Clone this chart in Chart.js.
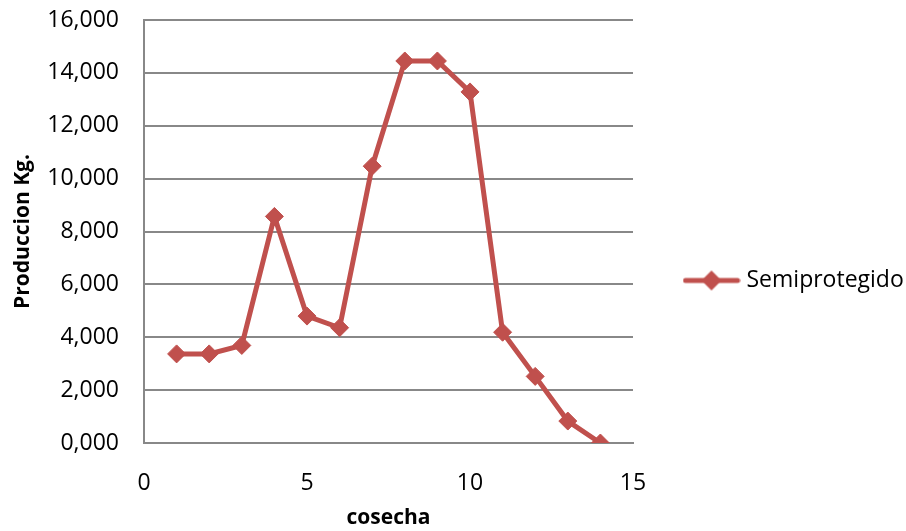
<!DOCTYPE html>
<html lang="es">
<head>
  <meta charset="UTF-8">
  <title>Produccion Semiprotegido</title>
  <script src="https://cdn.jsdelivr.net/npm/chart.js"></script>
  <style>
    html, body { margin: 0; padding: 0; background: #fff; }
    #wrap { width: 906px; height: 531px; }
  </style>
</head>
<body>
  <div id="wrap"><canvas id="myChart" width="906" height="531"></canvas></div>
  <script>
    // cosecha number and production per harvest
    const cosecha = [1, 2, 3, 4, 5, 6, 7, 8, 9, 10, 11, 12, 13, 14];
    const semiprotegido = [3.37, 3.37, 3.69, 8.57, 4.80, 4.36, 10.47, 14.45, 14.45, 13.28, 4.19, 2.52, 0.83, 0.00];
    const seriesName = 'Semiprotegido';
    const lineColor = '#C0504D';
    const gridColor = '#888888';
    const fontFamily = '"Open Sans", "Liberation Sans", sans-serif';

    // legend glyph: short line with a diamond in the middle
    const glyph = document.createElement('canvas');
    glyph.width = 58; glyph.height = 22;
    const g = glyph.getContext('2d');
    g.strokeStyle = lineColor; g.lineWidth = 5; g.lineCap = 'round';
    g.beginPath(); g.moveTo(3, 11); g.lineTo(55, 11); g.stroke();
    g.fillStyle = lineColor;
    g.beginPath(); g.moveTo(29, 1); g.lineTo(39, 11); g.lineTo(29, 21); g.lineTo(19, 11); g.closePath(); g.fill();

    // legend kept wide enough for its label, and nudged a bit below the middle
    const legendPlacement = {
      id: 'legendPlacement',
      beforeInit(chart) {
        const fit = chart.legend.fit;
        chart.legend.fit = function () {
          fit.call(this);
          this.width = 273;
        };
      },
      afterLayout(chart) {
        chart.legend.top += 15;
        chart.legend.bottom += 15;
      }
    };

    const points = cosecha.map((c, i) => ({ x: c, y: semiprotegido[i] }));

    const ctx = document.getElementById('myChart').getContext('2d');
    const myChart = new Chart(ctx, {
      type: 'line',
      data: {
        datasets: [{
          label: seriesName,
          data: points,
          borderColor: lineColor,
          backgroundColor: lineColor,
          borderWidth: 5,
          pointStyle: 'rectRot',
          pointRadius: 9,
          pointBorderWidth: 1,
          tension: 0
        }]
      },
      plugins: [legendPlacement],
      options: {
        responsive: false,
        animation: false,
        layout: { padding: { left: 10, top: 0, right: 0, bottom: 0 } },
        plugins: {
          tooltip: { enabled: false },
          legend: {
            position: 'right',
            labels: {
              usePointStyle: true,
              pointStyleWidth: 47,
              color: '#000',
              font: { family: fontFamily, size: 23 },
              padding: 55,
              generateLabels: chart => [{
                text: seriesName,
                pointStyle: glyph,
                fillStyle: lineColor,
                strokeStyle: lineColor,
                lineWidth: 0,
                datasetIndex: 0
              }]
            }
          }
        },
        scales: {
          x: {
            type: 'linear',
            min: 0,
            max: 15,
            afterFit: scale => { scale.height = 88; },
            ticks: { stepSize: 5, color: '#000', font: { family: fontFamily, size: 23 }, padding: 27 },
            grid: { display: false, drawTicks: false },
            border: { color: gridColor, width: 2 },
            title: { display: true, text: 'cosecha', color: '#000', font: { family: fontFamily, size: 21, weight: 'bold' }, padding: { top: 0, bottom: 0 } }
          },
          y: {
            min: 0,
            max: 16,
            afterFit: scale => { scale.width = 134; scale.paddingTop = 20; },
            ticks: {
              stepSize: 2,
              color: '#000',
              font: { family: fontFamily, size: 23 },
              padding: 25,
              callback: v => v.toFixed(3).replace('.', ',')
            },
            grid: { color: gridColor, lineWidth: 2, drawTicks: false },
            border: { color: gridColor, width: 2 },
            title: { display: true, text: 'Produccion Kg.', color: '#000', font: { family: fontFamily, size: 21, weight: 'bold' }, padding: { top: 0, bottom: 0 } }
          }
        }
      }
    });
  </script>
</body>
</html>
